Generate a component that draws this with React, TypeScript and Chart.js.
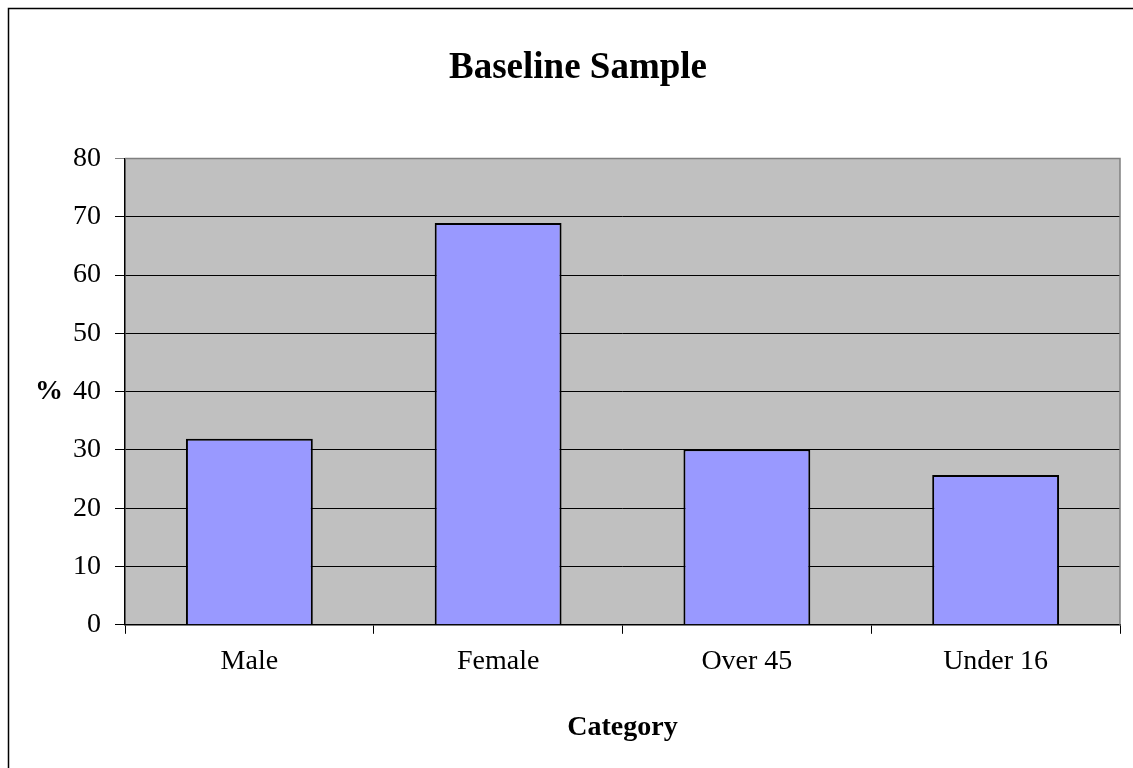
import React, { useEffect, useRef } from "react";
import { Chart, registerables } from "chart.js";

Chart.register(...registerables);

const categories = ["Male", "Female", "Over 45", "Under 16"];
const values = [31.9, 68.9, 30.1, 25.7];
const yTicks = [0, 10, 20, 30, 40, 50, 60, 70, 80];
const chartTitle = "Baseline Sample";
const xTitle = "Category";
const yTitle = "%";

const FONT = "'Liberation Serif', 'Times New Roman', serif";

const framePlugin = {
  id: "frame",
  beforeDraw(chart: any) {
    const { ctx, chartArea } = chart;
    ctx.save();
    ctx.fillStyle = "#ffffff";
    ctx.fillRect(0, 0, chart.width, chart.height);
    ctx.fillStyle = "#C0C0C0";
    ctx.fillRect(chartArea.left, chartArea.top, chartArea.right - chartArea.left, chartArea.bottom - chartArea.top);
    ctx.strokeStyle = "#000";
    ctx.lineWidth = 1.5;
    ctx.beginPath();
    ctx.moveTo(8.5, chart.height);
    ctx.lineTo(8.5, 8.5);
    ctx.lineTo(chart.width, 8.5);
    ctx.stroke();
    ctx.restore();
  },
  afterDraw(chart: any) {
    const { ctx, chartArea } = chart;
    ctx.save();
    ctx.strokeStyle = "#808080";
    ctx.lineWidth = 1.5;
    ctx.beginPath();
    ctx.moveTo(chartArea.left, chartArea.top);
    ctx.lineTo(chartArea.right, chartArea.top);
    ctx.lineTo(chartArea.right, chartArea.bottom);
    ctx.stroke();
    ctx.fillStyle = "#000";
    ctx.font = `bold 28px ${FONT}`;
    ctx.textAlign = "center";
    ctx.textBaseline = "middle";
    const y = chart.scales.y.getPixelForValue(40);
    ctx.fillText(yTitle, 49, y);
    ctx.restore();
  },
};

export default function App() {
  const ref = useRef<HTMLCanvasElement>(null);
  useEffect(() => {
    if (!ref.current) return;
    const chart = new Chart(ref.current, {
      type: "bar",
      data: {
        labels: categories,
        datasets: [
          {
            data: values,
            backgroundColor: "#9999FF",
            borderColor: "#000000",
            borderWidth: 2,
            barPercentage: 0.51,
            categoryPercentage: 1,
          },
        ],
      },
      options: {
        animation: false,
        responsive: false,
        maintainAspectRatio: false,
        layout: { padding: { left: 36, right: 13, top: 0, bottom: 23 } },
        plugins: {
          legend: { display: false },
          tooltip: { enabled: false },
          title: {
            display: true,
            text: chartTitle,
            color: "#000",
            font: { family: FONT, size: 37, weight: "bold" },
            padding: { top: 46, bottom: 68 },
          },
        },
        scales: {
          x: {
            offset: true,
            grid: {
              offset: true,
              drawOnChartArea: false,
              drawTicks: true,
              tickLength: 9,
              color: "#000",
            },
            border: { color: "#000", width: 1.5 },
            ticks: {
              color: "#000",
              padding: 11,
              font: { family: FONT, size: 28 },
            },
            title: {
              display: true,
              text: xTitle,
              color: "#000",
              font: { family: FONT, size: 28, weight: "bold" },
              padding: { top: 22, bottom: 0 },
            },
          },
          y: {
            min: 0,
            max: 80,
            afterBuildTicks(scale: any) {
              scale.ticks = yTicks.map((v) => ({ value: v }));
            },
            afterFit(scale: any) {
              scale.width = 89;
            },
            grid: {
              color: (c: any) => (c.tick && c.tick.value === 80 ? "#808080" : "#000"),
              lineWidth: 1,
              tickLength: 10,
              drawTicks: true,
            },
            border: { color: "#000", width: 1.5 },
            ticks: {
              color: "#000",
              padding: 14,
              font: { family: FONT, size: 28 },
            },
          },
        },
      },
      plugins: [framePlugin],
    });
    return () => chart.destroy();
  }, []);
  return (
    <div style={{ position: "fixed", left: 0, top: 0, width: 1133, height: 768 }}>
      <canvas ref={ref} width={1133} height={768} style={{ width: 1133, height: 768, display: "block" }} />
    </div>
  );
}
